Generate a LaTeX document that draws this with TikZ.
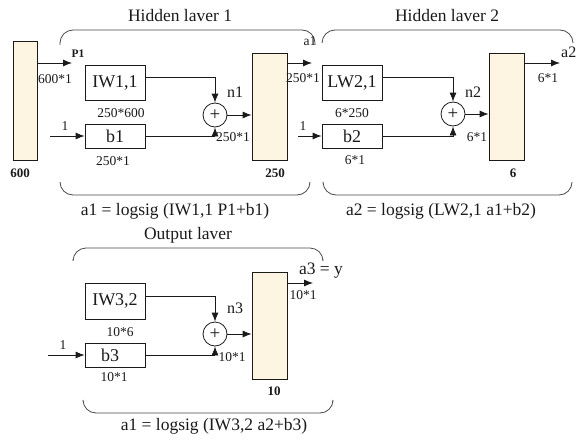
\documentclass[tikz,border=0pt]{standalone}
\usepackage{fontspec}
\setmainfont{Liberation Serif}
\usetikzlibrary{arrows.meta}
\definecolor{cream}{HTML}{FDF5E2}
\definecolor{ink}{HTML}{1A1A1A}
\begin{document}
\begin{tikzpicture}[x=1pt,y=-1pt,
  every node/.style={text=ink},
  box/.style={draw=ink, line width=0.8pt, minimum width=60pt, inner sep=0pt, font=\fontsize{18}{20}\selectfont},
  layerbox/.style={draw=ink, fill=cream, line width=0.8pt, minimum width=35pt, minimum height=107pt, inner sep=0pt},
  sumc/.style={circle, draw=ink, line width=0.8pt, minimum size=24pt, inner sep=0pt, font=\fontsize{19}{20}\selectfont},
  dimlbl/.style={inner sep=0pt, font=\fontsize{13.5}{15}\selectfont},
  boldlbl/.style={inner sep=0pt, font=\fontsize{13}{15}\selectfont\bfseries},
  varlbl/.style={inner sep=0pt, font=\fontsize{16}{18}\selectfont},
  titlelbl/.style={inner sep=0pt, font=\fontsize{17.5}{20}\selectfont},
  conn/.style={draw=ink, line width=0.8pt, -{Latex[length=9pt,width=7pt]}},
  tray/.style={draw=ink!80, line width=0.8pt, rounded corners=13pt}]
\useasboundingbox (0,0) rectangle (577,444);

% ---------- Hidden layer 1 ----------
\node[titlelbl] (t1) at (180,16) {Hidden laver 1};
\draw[tray] (60,45) -- (60,30) -- (315,30) -- (315,45);
\draw[tray] (60,182) -- (60,195) -- (310,195) -- (310,182);
\node[titlelbl] (c1) at (175,211) {a1 = logsig (IW1,1 P1+b1)};

\node[draw=ink, fill=cream, line width=0.8pt, minimum width=24pt, minimum height=119pt, inner sep=0pt] (in600) at (25,100.5) {};
\node[boldlbl] (l600) at (20,173) {600};
\node[box, minimum height=35pt] (IW11) at (115,82.5) {IW1,1};
\node[box, minimum height=24pt] (b1) at (115,136) {b1};
\node[sumc] (s1) at (215,115) {+};
\node[layerbox] (L1) at (269.5,106.5) {};
\node[boldlbl] (l250) at (275,173) {250};

\coordinate (p1end) at (72,63);
\coordinate (b1in) at (50,136);
\coordinate (a1end) at (312,63);
\draw[conn] (in600.east |- p1end) -- (p1end);
\node[boldlbl, font=\fontsize{11.5}{13}\selectfont\bfseries] (P1) at (78,54) {P1};
\node[dimlbl] (d6001) at (55,79) {600*1};
\draw[conn] (b1in) -- (b1.west);
\node[dimlbl] (one1) at (65,126) {1};
\node[dimlbl] (d250600) at (121,113) {250*600};
\node[dimlbl] (d2501a) at (113,161) {250*1};
\draw[conn] ([yshift=5pt]IW11.east) -| (s1.north);
\draw[conn] (b1.east) -| (s1.south);
\draw[conn] (s1.east) -- (s1.east -| L1.west);
\node[varlbl] (n1) at (235,92) {n1};
\node[dimlbl] (d2501b) at (233,137) {250*1};
\draw[conn] (L1.east |- a1end) -- (a1end);
\node[dimlbl] (a1lbl) at (310,41) {a1};
\node[dimlbl] (d2501c) at (303,78) {250*1};

% ---------- Hidden layer 2 ----------
\node[titlelbl] (t2) at (447,16) {Hidden laver 2};
\draw[tray] (322,43) -- (322,30) -- (573,30) -- (573,42);
\draw[tray] (323,183) -- (323,195) -- (572,195) -- (572,183);
\node[titlelbl] (c2) at (441,211) {a2 = logsig (LW2,1 a1+b2)};

\node[box, minimum height=35pt] (LW21) at (352,82.5) {LW2,1};
\node[box, minimum height=24pt] (b2) at (352,136) {b2};
\node[sumc] (s2) at (453,114) {+};
\node[layerbox] (L2) at (506.5,106.5) {};
\node[boldlbl] (l6) at (513,173) {6};

\coordinate (b2in) at (298,136);
\coordinate (a2end) at (560,63);
\draw[conn] (b2in) -- (b2.west);
\node[dimlbl] (one2) at (303,126) {1};
\node[dimlbl] (d6250) at (352,113) {6*250};
\node[dimlbl] (d61a) at (355,160) {6*1};
\draw[conn] ([yshift=5pt]LW21.east) -| (s2.north);
\draw[conn] (b2.east) -| (s2.south);
\draw[conn] (s2.east) -- (s2.east -| L2.west);
\node[varlbl] (n2) at (473,92) {n2};
\node[dimlbl] (d61b) at (477,137) {6*1};
\draw[conn] (L2.east |- a2end) -- (a2end);
\node[varlbl, anchor=east] (a2lbl) at (576.5,52) {a2};
\node[dimlbl] (d61c) at (548,78) {6*1};

% ---------- Output layer ----------
\node[titlelbl] (t3) at (188,235) {Output laver};
\draw[tray] (73,259) -- (73,248) -- (323,248) -- (323,259);
\draw[tray] (83,402) -- (83,413) -- (333,413) -- (333,402);
\node[titlelbl] (c3) at (214,426) {a1 = logsig (IW3,2 a2+b3)};

\node[box, minimum height=36pt] (IW32) at (115,301) {IW3,2};
\node[box, minimum height=24pt] (b3) at (115,355) {\hspace*{-10pt}b3};
\node[sumc] (s3) at (215,334) {+};
\node[layerbox] (L3) at (269.5,325.5) {};
\node[boldlbl] (l10) at (274,391) {10};

\coordinate (b3in) at (48,355);
\coordinate (a3end) at (313,283);
\draw[conn] (b3in) -- (b3.west);
\node[dimlbl] (one3) at (63,345) {1};
\node[dimlbl] (d106) at (120,332) {10*6};
\node[dimlbl] (d101a) at (114,377) {10*1};
\draw[conn] ([yshift=5pt]IW32.east) -| (s3.north);
\draw[conn] (b3.east) -| (s3.south);
\draw[conn] (s3.east) -- (s3.east -| L3.west);
\node[varlbl] (n3) at (235,308) {n3};
\node[dimlbl] (d101b) at (232,357) {10*1};
\draw[conn] (L3.east |- a3end) -- (a3end);
\node[titlelbl] (a3lbl) at (321,271) {a3 = y};
\node[dimlbl] (d101c) at (303,295) {10*1};
\end{tikzpicture}
\end{document}
